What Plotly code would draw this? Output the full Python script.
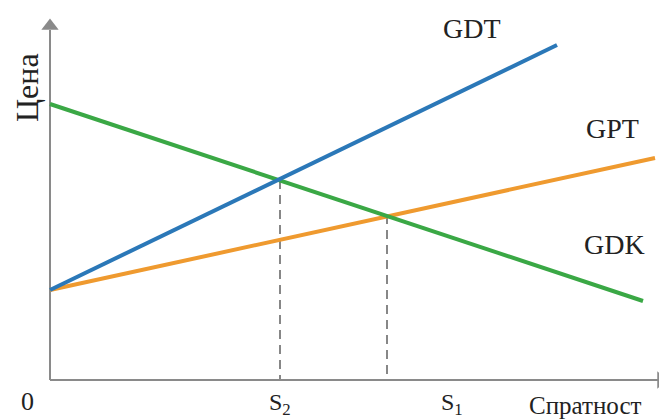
import plotly.graph_objects as go

# Data (arbitrary units; origin at the axes corner)
gdt_x = [0, 507]
gdt_y = [90, 335]
gpt_x = [0, 605]
gpt_y = [90, 222]
gdk_x = [0, 593]
gdk_y = [276, 79]
s2_x = 230
s2_y = 200
s1_x = 337
s1_y = 165

FONT = "Liberation Serif, Times New Roman, serif"
AX = "#8a8a8a"

fig = go.Figure()

# dashed drop lines
for sx, sy in [(s2_x, s2_y), (s1_x, s1_y)]:
    fig.add_trace(go.Scatter(x=[sx, sx], y=[sy, 0], mode="lines",
                             line=dict(color="#555555", width=1.4, dash="9px,6px"),
                             hoverinfo="skip", showlegend=False))

# axes
fig.add_trace(go.Scatter(x=[0, 0], y=[0, 350], mode="lines",
                         line=dict(color=AX, width=2), hoverinfo="skip", showlegend=False))
fig.add_trace(go.Scatter(x=[0, 608], y=[0, 0], mode="lines",
                         line=dict(color=AX, width=2), hoverinfo="skip", showlegend=False))
fig.add_trace(go.Scatter(x=[0], y=[354], mode="markers",
                         marker=dict(symbol="triangle-up", size=15, color=AX),
                         hoverinfo="skip", showlegend=False))
fig.add_trace(go.Scatter(x=[611], y=[0], mode="markers",
                         marker=dict(symbol="triangle-right", size=15, color=AX),
                         hoverinfo="skip", showlegend=False))

# curves
fig.add_trace(go.Scatter(x=gpt_x, y=gpt_y, mode="lines",
                         line=dict(color="#ef9a2f", width=4), name="GPT", showlegend=False))
fig.add_trace(go.Scatter(x=gdk_x, y=gdk_y, mode="lines",
                         line=dict(color="#3aa845", width=4), name="GDK", showlegend=False))
fig.add_trace(go.Scatter(x=gdt_x, y=gdt_y, mode="lines",
                         line=dict(color="#2b78b8", width=4), name="GDT", showlegend=False))

def label(x, y, text, size, angle=0):
    fig.add_annotation(x=x, y=y, text=text, showarrow=False, textangle=angle,
                       font=dict(family=FONT, size=size, color="#222222"),
                       xanchor="center", yanchor="middle")

label(422, 352, "GDT", 28)
label(562, 252, "GPT", 28)
label(564, 136, "GDK", 28)
label(-23, 292, "Цена", 32, -90)
label(-23, -21, "0", 26)
label(s2_x, -24, "S<sub>2</sub>", 24)
label(402, -24, "S<sub>1</sub>", 24)
label(535, -25, "Спратност", 25)

# page body has an 8px margin: figure covers reference pixels 8..667 x 8..419
fig.update_layout(
    width=659, height=411,
    margin=dict(l=0, r=0, t=0, b=0),
    paper_bgcolor="white", plot_bgcolor="white",
    xaxis=dict(range=[-42, 617], visible=False, fixedrange=True),
    yaxis=dict(range=[-39, 372], visible=False, fixedrange=True),
)

fig.write_html("out.html")
